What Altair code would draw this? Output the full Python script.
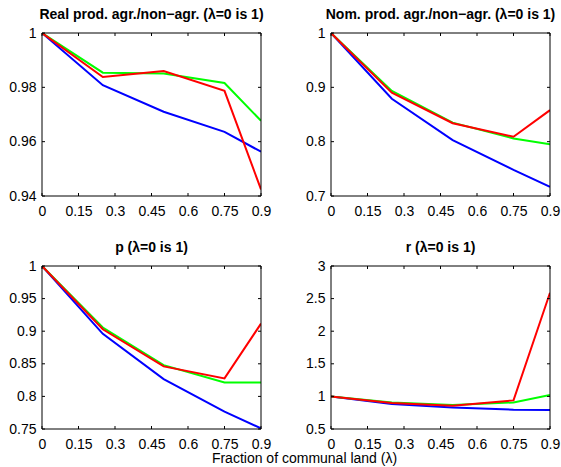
import altair as alt
import pandas as pd

FONT = "Liberation Sans"

lam = [0, 0.25, 0.5, 0.75, 0.9]
x_ticks = [0, 0.15, 0.3, 0.45, 0.6, 0.75, 0.9]

real_blue = [1, 0.9808, 0.9710, 0.9636, 0.9563]
real_green = [1, 0.9854, 0.9851, 0.9816, 0.9677]
real_red = [1, 0.9838, 0.9860, 0.9787, 0.9424]

nom_blue = [1, 0.879, 0.803, 0.748, 0.717]
nom_green = [1, 0.8935, 0.835, 0.806, 0.795]
nom_red = [1, 0.890, 0.834, 0.809, 0.858]

p_blue = [1, 0.896, 0.8265, 0.7765, 0.751]
p_green = [1, 0.9056, 0.848, 0.8214, 0.8214]
p_red = [1, 0.903, 0.846, 0.8276, 0.9117]

r_blue = [1, 0.883, 0.830, 0.796, 0.790]
r_green = [1, 0.908, 0.867, 0.908, 1.020]
r_red = [1, 0.898, 0.857, 0.939, 2.590]

titles = [
    "Real prod. agr./non\u2212agr. (\u03bb=0 is 1)",
    "Nom. prod. agr./non\u2212agr. (\u03bb=0 is 1)",
    "p (\u03bb=0 is 1)",
    "r (\u03bb=0 is 1)",
]
y_domains = [[0.94, 1], [0.7, 1], [0.75, 1], [0.5, 3]]
y_tick_lists = [
    [0.94, 0.96, 0.98, 1],
    [0.7, 0.8, 0.9, 1],
    [0.75, 0.8, 0.85, 0.9, 0.95, 1],
    [0.5, 1, 1.5, 2, 2.5, 3],
]
series = [
    (real_blue, real_green, real_red),
    (nom_blue, nom_green, nom_red),
    (p_blue, p_green, p_red),
    (r_blue, r_green, r_red),
]
colors = ["#0000ff", "#00ff00", "#ff0000"]
xlabel = "Fraction of communal land (\u03bb)"

W, H = 219, 163
TL = 3


def panel(i):
    xs = alt.Scale(domain=[0, 0.9], nice=False, zero=False)
    ys = alt.Scale(domain=y_domains[i], nice=False, zero=False)
    show_xtitle = i == 2
    x_axis = alt.Axis(
        values=x_ticks, format=".2~f", grid=False, domain=False, ticks=False,
        labelPadding=8, labelFlush=False, labelOverlap=False,
        labelFont=FONT, labelFontSize=14, labelColor="black",
        title=xlabel if show_xtitle else "",
        **(dict(titleX=262, titleY=33, titleAlign="center", titleBaseline="alphabetic",
                titleFont=FONT, titleFontSize=14, titleFontWeight="normal",
                titleColor="black") if show_xtitle else {}),
    )
    y_axis = alt.Axis(
        values=y_tick_lists[i], format=".2~f", grid=False, domain=False, ticks=False,
        labelPadding=6, labelFlush=False, labelOverlap=False,
        labelFont=FONT, labelFontSize=14, labelColor="black", title="",
    )
    layers = []
    frame = pd.DataFrame({"f": [0]})
    for k, (vals, col) in enumerate(zip(series[i], colors)):
        df = pd.DataFrame({"x": lam, "y": vals})
        layers.append(
            alt.Chart(df).mark_line(color=col, strokeWidth=2, clip=True).encode(
                x=alt.X("x:Q", scale=xs, axis=x_axis),
                y=alt.Y("y:Q", scale=ys, axis=y_axis),
            )
        )
    xt = pd.DataFrame({"x": x_ticks})
    yt = pd.DataFrame({"y": y_tick_lists[i]})
    layers.append(alt.Chart(xt).mark_rule(color="black", strokeWidth=1).encode(
        x=alt.X("x:Q", scale=xs, axis=x_axis), y=alt.value(0), y2=alt.value(TL)))
    layers.append(alt.Chart(xt).mark_rule(color="black", strokeWidth=1).encode(
        x=alt.X("x:Q", scale=xs, axis=x_axis), y=alt.value(H - TL), y2=alt.value(H)))
    layers.append(alt.Chart(yt).mark_rule(color="black", strokeWidth=1).encode(
        y=alt.Y("y:Q", scale=ys, axis=y_axis), x=alt.value(0), x2=alt.value(TL)))
    layers.append(alt.Chart(yt).mark_rule(color="black", strokeWidth=1).encode(
        y=alt.Y("y:Q", scale=ys, axis=y_axis), x=alt.value(W - TL), x2=alt.value(W)))
    layers.append(alt.Chart(frame).mark_rect(fill=None, stroke="black", strokeWidth=1).encode(
        x=alt.value(0), x2=alt.value(W), y=alt.value(0), y2=alt.value(H)))
    return alt.layer(*layers).properties(
        width=W, height=H,
        title=alt.TitleParams(
            titles[i], font=FONT, fontSize=14, fontWeight="bold", color="black",
            anchor="middle", frame="group", offset=4,
        ),
    )


chart = alt.concat(
    *[panel(i) for i in range(4)], columns=2, spacing=70, bounds="flush"
).properties(
    padding={"left": 8, "top": 8, "right": 1, "bottom": 1},
    background="white",
).configure_view(
    stroke=None
)

chart.save("out.html", embed_options={"renderer": "svg", "actions": False})
